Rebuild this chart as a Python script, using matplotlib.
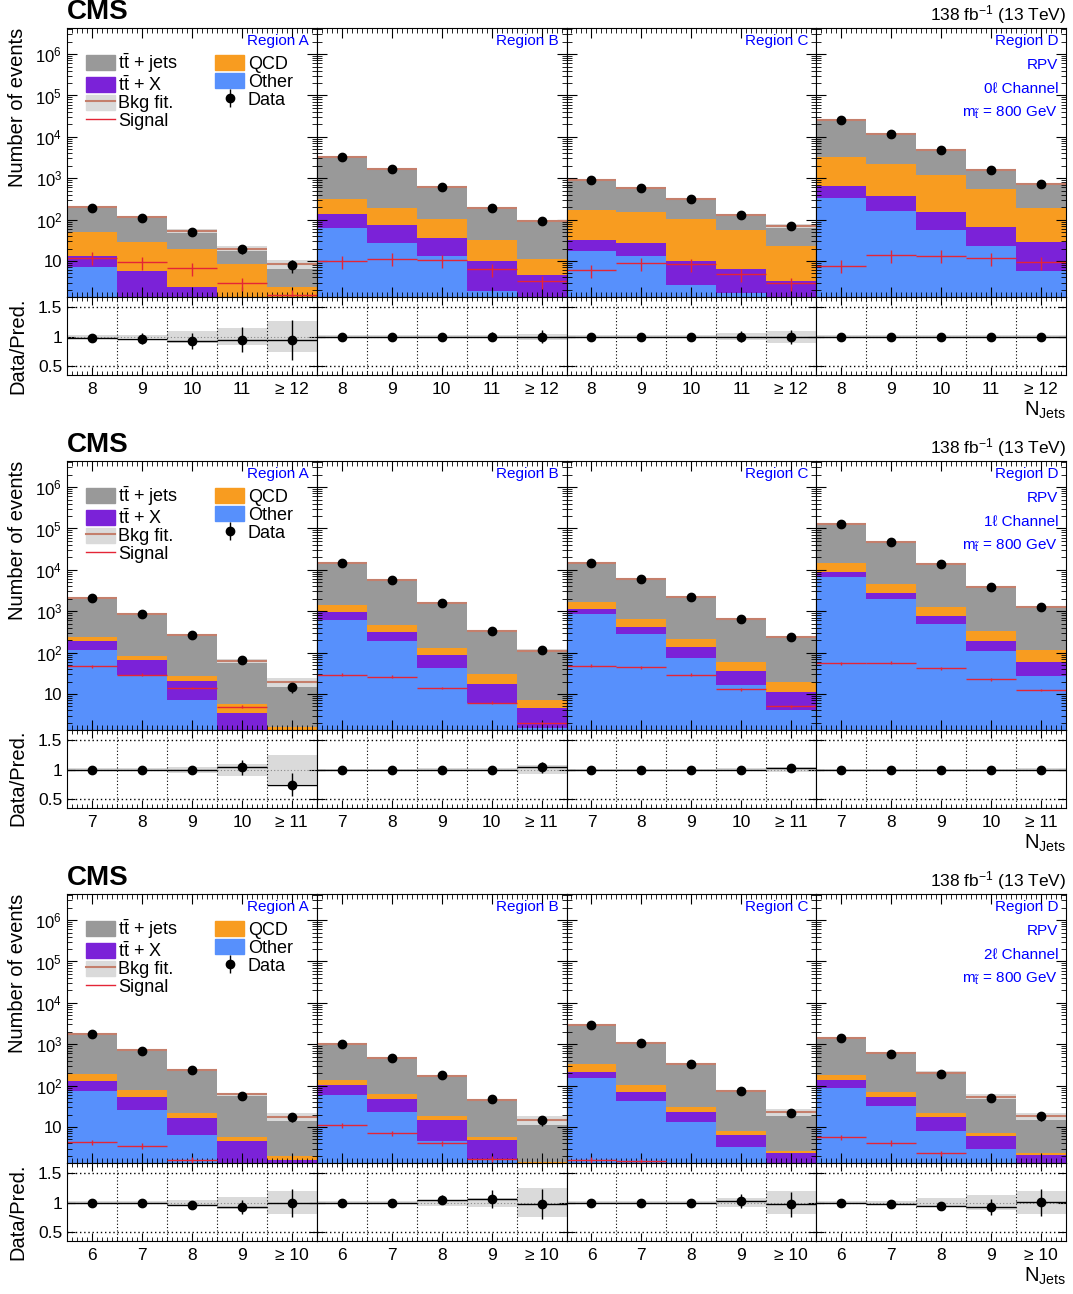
import numpy as np
import matplotlib
matplotlib.use('Agg')
import matplotlib.pyplot as plt
from matplotlib.ticker import LogLocator, NullFormatter, NullLocator, FuncFormatter
from matplotlib.patches import Patch
from matplotlib.lines import Line2D

plt.rcParams['font.family'] = ['Liberation Sans', 'DejaVu Sans']
plt.rcParams['mathtext.fontset'] = 'custom'
plt.rcParams['mathtext.rm'] = 'Liberation Sans'
plt.rcParams['mathtext.it'] = 'Liberation Sans:italic'
plt.rcParams['mathtext.bf'] = 'Liberation Sans:bold'

# ---- data, one row per region (A, B, C, D), 5 NJets bins each ----
regions = ['Region A', 'Region B', 'Region C', 'Region D']
channels = ['0\u2113 Channel', '1\u2113 Channel', '2\u2113 Channel']
njet_labels = [['8', '9', '10', '11', '\u2265 12'],
               ['7', '8', '9', '10', '\u2265 11'],
               ['6', '7', '8', '9', '\u2265 10']]

other_0l = [[7.3, 1.0, 1.0, 0.5, 0.5], [63, 27, 13, 1.9, 1.0],
            [17, 13, 2.6, 1.7, 0.8], [340, 164, 56, 22.6, 5.8]]
ttx_0l = [[5.7, 4.7, 1.4, 0.4, 0.3], [73, 47, 22, 8.1, 3.6],
          [15, 14, 7.4, 4.7, 2.4], [320, 206, 99, 43.4, 23.2]]
qcd_0l = [[37, 23, 17.6, 7.4, 1.5], [179, 117, 67, 23, 6.5],
          [138, 128, 95, 49.6, 19.8], [2580, 1830, 1045, 474, 166]]
ttjets_0l = [[150, 85, 34, 11.7, 6.2], [2985, 1439, 518, 158, 80],
             [740, 415, 205, 74, 48], [22460, 9800, 3600, 1050, 525]]
data_0l = [[195, 110, 50, 19, 8], [3300, 1630, 620, 191, 91],
           [910, 570, 310, 130, 71], [25700, 12000, 4800, 1590, 720]]
signal_0l = [[12, 9.3, 6.7, 2.9, 1.5], [10, 11.4, 10.5, 6.4, 3.3],
             [6.0, 8.8, 8.3, 4.8, 2.9], [7.7, 14, 13.4, 11.6, 9.3]]
unc_0l = [[0.03, 0.03, 0.10, 0.14, 0.26], [0.02, 0.02, 0.02, 0.03, 0.05],
          [0.02, 0.02, 0.03, 0.06, 0.10], [0.02, 0.02, 0.02, 0.02, 0.02]]

other_1l = [[115, 28, 7.2, 1.0, 0.5], [630, 190, 43, 6.0, 1.5],
            [850, 280, 75, 16.5, 4.1], [6900, 1950, 480, 107, 27]]
ttx_1l = [[75, 38, 13.8, 2.5, 0.3], [310, 128, 44, 11.7, 3.2],
          [270, 145, 62, 18.5, 6.9], [2100, 810, 270, 83, 33]]
qcd_1l = [[50, 17, 6, 2.2, 0.8], [440, 147, 44, 12.3, 2.3],
          [570, 220, 76, 24, 9], [5400, 1840, 510, 141, 55]]
ttjets_1l = [[1800, 767, 241, 58, 17.9], [13420, 5135, 1419, 308, 105],
             [12710, 5505, 1977, 581, 220], [114600, 41400, 12540, 3469, 1175]]
data_1l = [[2040, 850, 268, 66, 14.5], [14800, 5600, 1550, 338, 116],
           [14400, 6150, 2190, 640, 245], [129000, 46000, 13800, 3800, 1290]]
signal_1l = [[47, 29, 14, 4.9, 0.8], [29, 26, 14, 6.2, 2.0],
             [48, 44, 29, 13.2, 5.1], [55, 57, 42, 22.7, 12.5]]
unc_1l = [[0.02, 0.03, 0.05, 0.10, 0.24], [0.01, 0.01, 0.02, 0.03, 0.07],
          [0.01, 0.01, 0.01, 0.02, 0.04], [0.01, 0.01, 0.01, 0.01, 0.02]]

other_2l = [[75, 26, 6.4, 1.0, 0.8], [59, 23, 4.7, 1.7, 0.7],
            [155, 42.5, 13, 3.3, 0.9], [87, 32, 8, 2.9, 0.9]]
ttx_2l = [[54, 27, 9.8, 3.6, 0.8], [43, 25, 10.1, 3.2, 0.5],
          [63, 28.5, 10, 3.1, 1.4], [50, 22, 9, 3.1, 1.2]]
qcd_2l = [[61, 25, 5.8, 1.1, 0.4], [33, 15, 3.7, 0.7, 0.2],
          [122, 32, 7, 1.6, 0.3], [43, 17, 4.4, 1.0, 0.2]]
ttjets_2l = [[1590, 632, 223, 56, 15.7], [875, 407, 155, 39.4, 13.4],
             [2560, 947, 303, 66, 20.1], [1200, 529, 184, 47, 16.2]]
data_2l = [[1780, 700, 235, 57, 17.7], [1010, 470, 182, 48, 14.4],
           [2900, 1050, 333, 76, 22], [1380, 590, 194, 50, 18.6]]
signal_2l = [[4.3, 3.5, 1.6, 1.0, 0.8], [11, 7.0, 4.1, 1.7, 0.8],
             [1.6, 1.5, 1.0, 0.8, 0.6], [5.7, 4.2, 2.3, 1.0, 0.6]]
unc_2l = [[0.02, 0.03, 0.05, 0.10, 0.20], [0.02, 0.03, 0.05, 0.08, 0.25],
          [0.02, 0.02, 0.03, 0.07, 0.20], [0.02, 0.03, 0.08, 0.13, 0.20]]

signal_relerr = [0.35, 0.08, 0.15]

C_TT = '#999999'
C_TTX = '#7b22d8'
C_QCD = '#f89c20'
C_OTHER = '#5790fc'
C_SIG = '#e42536'
C_FIT = '#c47f6c'
C_BAND = '#dadada'

all_channels = [
    (other_0l, ttx_0l, qcd_0l, ttjets_0l, data_0l, signal_0l, unc_0l),
    (other_1l, ttx_1l, qcd_1l, ttjets_1l, data_1l, signal_1l, unc_1l),
    (other_2l, ttx_2l, qcd_2l, ttjets_2l, data_2l, signal_2l, unc_2l),
]

W, H = 1073, 1294
fig = plt.figure(figsize=(W / 100, H / 100), dpi=100)

x = np.arange(5)
edges = np.arange(0.5, 4.5, 1.0)


def fbox(left, top, width, height):
    return [left / W, 1 - (top + height) / H, width / W, height / H]


def log_fmt(v, pos):
    e = int(round(np.log10(v)))
    if e < 1:
        return ''
    if e == 1:
        return '10'
    return '$10^{%d}$' % e


for ch, (other, ttx, qcd, ttj, data, sig, unc) in enumerate(all_channels):
    off = 433 * ch
    for r in range(4):
        left = 67 + r * 249.75
        ax = fig.add_axes(fbox(left, 28 + off, 249.75, 269))
        rax = fig.add_axes(fbox(left, 297 + off, 249.75, 78))

        comps = [np.array(other[r]), np.array(ttx[r]), np.array(qcd[r]), np.array(ttj[r])]
        cols = [C_OTHER, C_TTX, C_QCD, C_TT]
        bottom = np.full(5, 1e-3)
        for vals, c in zip(comps, cols):
            ax.bar(x, vals, bottom=bottom, width=1.0, color=c, linewidth=0)
            bottom = bottom + vals
        total = bottom
        u = np.array(unc[r])
        d = np.array(data[r], dtype=float)
        s = np.array(sig[r])

        ax.bar(x, 2 * u * total, bottom=total * (1 - u), width=1.0, color=C_BAND, linewidth=0)
        ax.hlines(total, x - 0.5, x + 0.5, color=C_FIT, lw=1.5)
        ax.errorbar(x, s, xerr=0.5, yerr=s * signal_relerr[ch], fmt='none',
                    ecolor=C_SIG, elinewidth=1.0)
        ax.errorbar(x, d, yerr=np.sqrt(d), fmt='o', color='k', ms=6, elinewidth=1.0)

        ax.set_yscale('log')
        ax.set_ylim(10 ** 0.13, 10 ** 6.63)
        ax.set_xlim(-0.5, 4.5)
        ax.yaxis.set_major_locator(LogLocator(base=10, numticks=10))
        ax.yaxis.set_minor_locator(LogLocator(base=10, subs=np.arange(2, 10), numticks=20))
        ax.yaxis.set_minor_formatter(NullFormatter())
        ax.yaxis.set_major_formatter(FuncFormatter(log_fmt))
        ax.set_xticks(x)
        ax.set_xticks(np.arange(-0.5, 4.51, 0.1), minor=True)
        ax.set_xticklabels([])
        ax.tick_params(which='both', direction='in', top=True, right=True, labelsize=12)
        ax.tick_params(which='major', length=7, width=0.8)
        ax.tick_params(which='minor', length=3.5, width=0.6)
        if r > 0:
            ax.set_yticklabels([])

        ax.text(0.968, 0.952, regions[r], transform=ax.transAxes, ha='right',
                va='center', color='blue', fontsize=11)
        if r == 3:
            extra = ['RPV', channels[ch], 'm$_{\\tilde{\\mathrm{t}}}$ = 800 GeV']
            for i, t in enumerate(extra):
                ax.text(0.968, 0.952 - 0.0892 * (i + 1), t, transform=ax.transAxes,
                        ha='right', va='center', color='blue', fontsize=11)

        if r == 0:
            data_handle = (Line2D([], [], marker='|', color='k', ls='none', ms=13, mew=1),
                           Line2D([], [], marker='o', color='k', ls='none', ms=6))
            handles = [Patch(color=C_TT), Patch(color=C_TTX),
                       (Patch(color=C_BAND), Line2D([], [], color=C_FIT, lw=1.5)),
                       Line2D([], [], color=C_SIG, lw=1),
                       Patch(color=C_QCD), Patch(color=C_OTHER), data_handle]
            labels = ['$\\mathrm{t\\bar{t}}$ + jets', '$\\mathrm{t\\bar{t}}$ + X', 'Bkg fit.',
                      'Signal', 'QCD', 'Other', 'Data']
            ax.legend(handles, labels, ncol=2, loc='upper left', frameon=False,
                      bbox_to_anchor=(0.075, 0.912), fontsize=13, handlelength=1.6,
                      handleheight=0.9, handletextpad=0.2, labelspacing=0.0,
                      columnspacing=2.05, borderaxespad=0, borderpad=0)

        # ratio panel
        ratio = d / total
        rax.bar(x, 2 * u, bottom=1 - u, width=1.0, color=C_BAND, linewidth=0)
        rax.axhline(1.0, color='#888888', ls=(0, (1, 2)), lw=0.8)
        for yl in (0.5, 1.5):
            rax.axhline(yl, color='k', ls=(0, (1, 2)), lw=1.0)
        for e in edges:
            rax.axvline(e, color='k', ls=(0, (1, 2)), lw=0.8)
        rax.hlines(ratio, x - 0.5, x + 0.5, color='k', lw=1.0)
        rax.errorbar(x, ratio, yerr=np.sqrt(d) / total, fmt='o', color='k', ms=6, elinewidth=1.0)
        rax.set_xlim(-0.5, 4.5)
        rax.set_ylim(0.35, 1.67)
        rax.set_yticks([0.5, 1.0, 1.5])
        rax.set_yticklabels(['0.5', '1', '1.5'])
        rax.yaxis.set_minor_locator(NullLocator())
        rax.set_xticks(x)
        rax.set_xticks(np.arange(-0.5, 4.51, 0.1), minor=True)
        rax.set_xticklabels(njet_labels[ch])
        rax.tick_params(which='both', direction='in', top=True, right=True, labelsize=12.5)
        rax.tick_params(which='major', length=6, width=0.8)
        rax.tick_params(which='minor', length=3, width=0.6)
        rax.tick_params(axis='x', pad=5)
        if r > 0:
            rax.set_yticklabels([])

    # texts for the channel
    fig.text(67 / W, 1 - (12 + off) / H, 'CMS', fontweight='bold', fontsize=20,
             ha='left', va='center')
    fig.text(1066 / W, 1 - (15 + off) / H, '138 fb$^{-1}$ (13 TeV)', fontsize=12.5,
             ha='right', va='center')
    fig.text(18 / W, 1 - (28 + off) / H, 'Number of events', rotation=90, fontsize=14.5,
             ha='center', va='top')
    fig.text(18 / W, 1 - (297 + off) / H, 'Data/Pred.', rotation=90, fontsize=14.5,
             ha='center', va='top')
    fig.text(1066 / W, 1 - (410 + off) / H, 'N$_{\\mathrm{Jets}}$', fontsize=14.5,
             ha='right', va='center')

fig.savefig('out.png', dpi=100)
